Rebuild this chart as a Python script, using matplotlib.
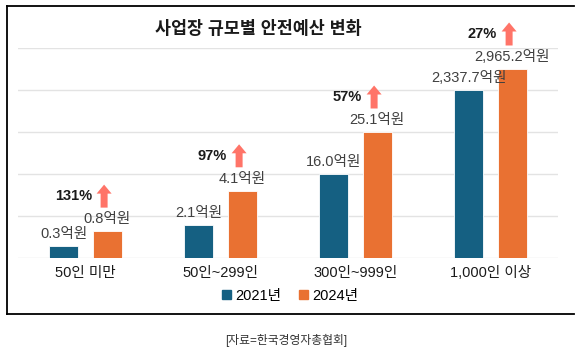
import matplotlib
matplotlib.use("Agg")
import numpy as np
from matplotlib import pyplot as plt
from matplotlib.lines import Line2D
from matplotlib.patches import FancyArrow, Patch

plt.rcParams["font.family"] = ["Liberation Sans", "Noto Sans CJK KR", "DejaVu Sans"]

categories = ["50인 미만", "50인~299인", "300인~999인", "1,000인 이상"]
series = ["2021년", "2024년"]
values_2021 = [0.3, 2.1, 16.0, 2337.7]
values_2024 = [0.8, 4.1, 25.1, 2965.2]
# bar heights as drawn in the source graphic (not to scale with the values)
heights_2021 = [0.29, 0.79, 2.0, 4.0]
heights_2024 = [0.64, 1.6, 3.0, 4.5]
growth = [131, 97, 57, 27]

c2021 = "#156082"
c2024 = "#E97132"
c_arrow = "#FF7468"

W, H = 581, 359
fig = plt.figure(figsize=(W / 100, H / 100), dpi=100)
ax = fig.add_axes([18 / W, 101 / H, 540 / W, 210 / H])

x = np.arange(len(categories))
bw = 0.215
off = 0.16
ax.bar(x - off, heights_2021, bw, color=c2021, edgecolor="white", linewidth=0.6, zorder=3)
ax.bar(x + off, heights_2024, bw, color=c2024, edgecolor="white", linewidth=0.6, zorder=3)

ax.set_xlim(-0.5, 3.5)
ax.set_ylim(0, 5)
ax.set_yticks(np.arange(0, 6))
ax.yaxis.grid(True, color="#E3E3E3", linewidth=1.0, zorder=0)
ax.tick_params(axis="y", left=False, labelleft=False)
ax.tick_params(axis="x", length=0, pad=6, labelsize=10.5, labelcolor="#1a1a1a")
ax.set_xticks(x)
ax.set_xticklabels(categories)
for s in ax.spines.values():
    s.set_visible(False)

py = 1 / 42  # one pixel in y data units
px = 1 / 135  # one pixel in x data units


def fmt(v):
    return f"{v:,.1f}억원"


for i in range(len(categories)):
    ax.text(x[i] - off, heights_2021[i] + 12 * py, fmt(values_2021[i]), ha="center",
            va="center", fontsize=10.5, color="#404040", zorder=4)
    ax.text(x[i] + off, heights_2024[i] + 12 * py, fmt(values_2024[i]), ha="center",
            va="center", fontsize=10.5, color="#404040", zorder=4)
    ax_x = x[i] + off - 3 * px
    mid = heights_2024[i] + 35 * py
    ax.add_patch(FancyArrow(ax_x, mid - 11.5 * py, 0, 23 * py, width=7 * px,
                            head_width=15 * px, head_length=9 * py,
                            length_includes_head=True, color=c_arrow,
                            linewidth=0, clip_on=False, zorder=4))
    ax.text(ax_x - 12 * px, mid, f"{growth[i]}%", ha="right", va="center",
            fontsize=10.5, fontweight="bold", color="#1a1a1a")

fig.text(258 / W, 1 - 28 / H, "사업장 규모별 안전예산 변화", ha="center", va="center",
         fontsize=12.5, fontweight="bold", color="#1a1a1a")

handles = [Patch(color=c2021), Patch(color=c2024)]
fig.legend(handles, series, loc="center", bbox_to_anchor=(290 / W, 1 - 296 / H), ncol=2,
           frameon=False, handlelength=0.6, handleheight=0.6, handletextpad=0.3,
           columnspacing=1.2, fontsize=10.5)

fig.text(286 / W, 1 - 340 / H, "[자료=한국경영자총협회]", ha="center", va="center",
         fontsize=8.5, color="#333333")

# border around the chart
for xs, ys in [([7, 7], [6, 314]), ([7, 574], [6, 6]), ([7, 574], [314, 314])]:
    fig.add_artist(Line2D([v / W for v in xs], [1 - v / H for v in ys],
                          color="black", linewidth=1.3))

fig.savefig("out.png", dpi=100)
